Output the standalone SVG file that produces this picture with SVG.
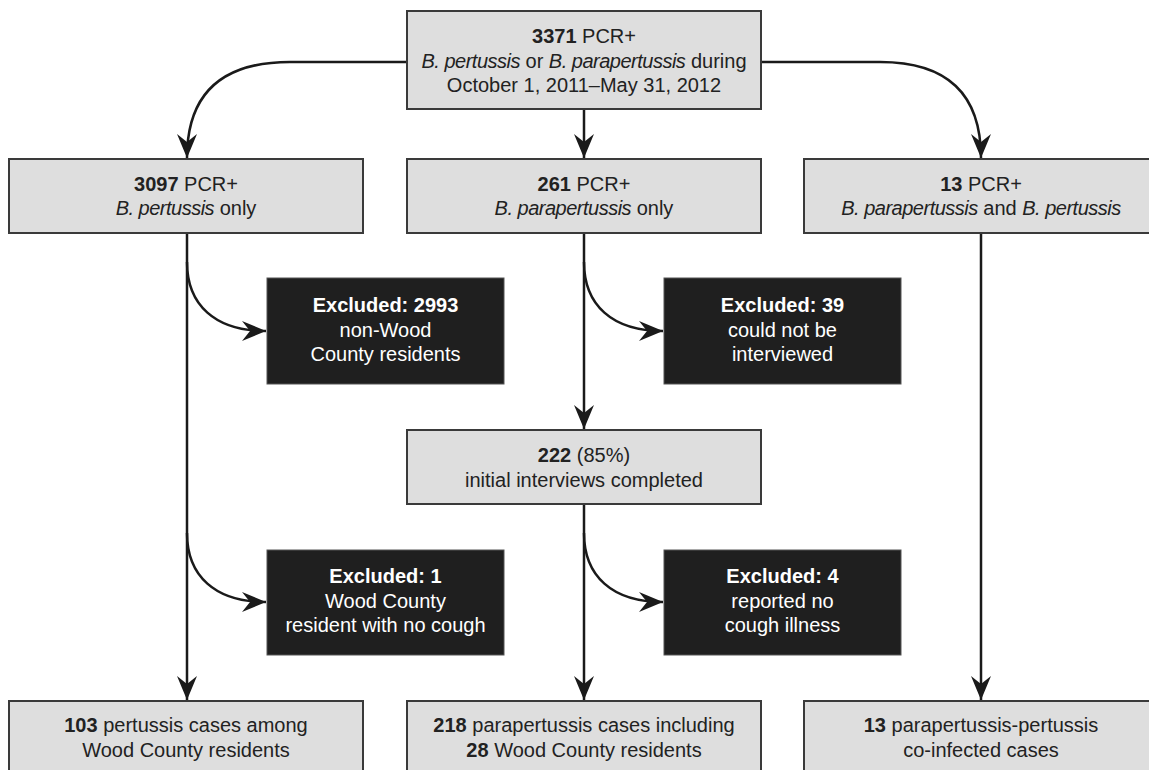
<svg xmlns="http://www.w3.org/2000/svg" width="1149" height="770" viewBox="0 0 1149 770">
<style>
.box{fill:#dedede;stroke:#3a3a3a;stroke-width:2}
.ex{fill:#1f1f1f;stroke:#555;stroke-width:1}
text{font-family:"Liberation Sans",Arial,sans-serif;font-size:20px;text-anchor:middle;fill:#222}
.w{fill:#fff}
.b{font-weight:bold}
.i{font-style:italic;letter-spacing:-0.5px}
.c{fill:none;stroke:#1a1a1a;stroke-width:2.5}
</style>
<defs>
<marker id="ah" markerUnits="userSpaceOnUse" markerWidth="28" markerHeight="22" refX="24" refY="10" orient="auto">
<path d="M0,0 L24,10 L0,20 L8,10 Z" fill="#1a1a1a"/>
</marker>
</defs>
<rect width="1149" height="770" fill="#fff"/>
<g id="connectors">
<path class="c" d="M407,62 L290,62 Q187,62 187,158" marker-end="url(#ah)"/>
<path class="c" d="M761,62 L880,62 Q981,62 981,158" marker-end="url(#ah)"/>
<path class="c" d="M584,109 L584,158" marker-end="url(#ah)"/>
<path class="c" d="M187,233 L187,700" marker-end="url(#ah)"/>
<path class="c" d="M187,262 C187,305 215,331 266,331" marker-end="url(#ah)"/>
<path class="c" d="M187,533 C187,576 215,602 266,602" marker-end="url(#ah)"/>
<path class="c" d="M584,233 L584,429" marker-end="url(#ah)"/>
<path class="c" d="M584,262 C584,305 612,331 663,331" marker-end="url(#ah)"/>
<path class="c" d="M584,504 L584,700" marker-end="url(#ah)"/>
<path class="c" d="M584,533 C584,576 612,602 663,602" marker-end="url(#ah)"/>
<path class="c" d="M981,233 L981,700" marker-end="url(#ah)"/>
</g>
<g id="n-top">
<rect class="box" x="407" y="11" width="354" height="98"/>
<text x="584" y="43"><tspan class="b">3371</tspan> PCR+</text>
<text x="584" y="68"><tspan class="i">B. pertussis</tspan> or <tspan class="i">B. parapertussis</tspan> during</text>
<text x="584" y="92">October 1, 2011–May 31, 2012</text>
</g>
<g id="n-pert">
<rect class="box" x="9" y="159" width="354" height="74"/>
<text x="186" y="191"><tspan class="b">3097</tspan> PCR+</text>
<text x="186" y="215"><tspan class="i">B. pertussis</tspan> only</text>
</g>
<g id="n-para">
<rect class="box" x="407" y="159" width="354" height="74"/>
<text x="584" y="191"><tspan class="b">261</tspan> PCR+</text>
<text x="584" y="215"><tspan class="i">B. parapertussis</tspan> only</text>
</g>
<g id="n-both">
<rect class="box" x="804" y="159" width="356" height="74"/>
<text x="981" y="191"><tspan class="b">13</tspan> PCR+</text>
<text x="981" y="215"><tspan class="i">B. parapertussis</tspan> and <tspan class="i">B. pertussis</tspan></text>
</g>
<g id="n-ex1">
<rect class="ex" x="267" y="278" width="237" height="106"/>
<text class="w b" x="385.5" y="312">Excluded: 2993</text>
<text class="w" x="385.5" y="337">non-Wood</text>
<text class="w" x="385.5" y="361">County residents</text>
</g>
<g id="n-ex2">
<rect class="ex" x="664" y="278" width="237" height="106"/>
<text class="w b" x="782.5" y="312">Excluded: 39</text>
<text class="w" x="782.5" y="337">could not be</text>
<text class="w" x="782.5" y="361">interviewed</text>
</g>
<g id="n-222">
<rect class="box" x="407" y="430" width="354" height="74"/>
<text x="584" y="462"><tspan class="b">222</tspan> (85%)</text>
<text x="584" y="487">initial interviews completed</text>
</g>
<g id="n-ex3">
<rect class="ex" x="267" y="550" width="237" height="105"/>
<text class="w b" x="385.5" y="583">Excluded: 1</text>
<text class="w" x="385.5" y="608">Wood County</text>
<text class="w" x="385.5" y="632">resident with no cough</text>
</g>
<g id="n-ex4">
<rect class="ex" x="664" y="550" width="237" height="105"/>
<text class="w b" x="782.5" y="583">Excluded: 4</text>
<text class="w" x="782.5" y="608">reported no</text>
<text class="w" x="782.5" y="632">cough illness</text>
</g>
<g id="n-res1">
<rect class="box" x="9" y="701" width="354" height="80"/>
<text x="186" y="732"><tspan class="b">103</tspan> pertussis cases among</text>
<text x="186" y="757">Wood County residents</text>
</g>
<g id="n-res2">
<rect class="box" x="407" y="701" width="354" height="80"/>
<text x="584" y="732"><tspan class="b">218</tspan> parapertussis cases including</text>
<text x="584" y="757"><tspan class="b">28</tspan> Wood County residents</text>
</g>
<g id="n-res3">
<rect class="box" x="804" y="701" width="356" height="80"/>
<text x="981" y="732"><tspan class="b">13</tspan> parapertussis-pertussis</text>
<text x="981" y="757">co-infected cases</text>
</g>
</svg>
